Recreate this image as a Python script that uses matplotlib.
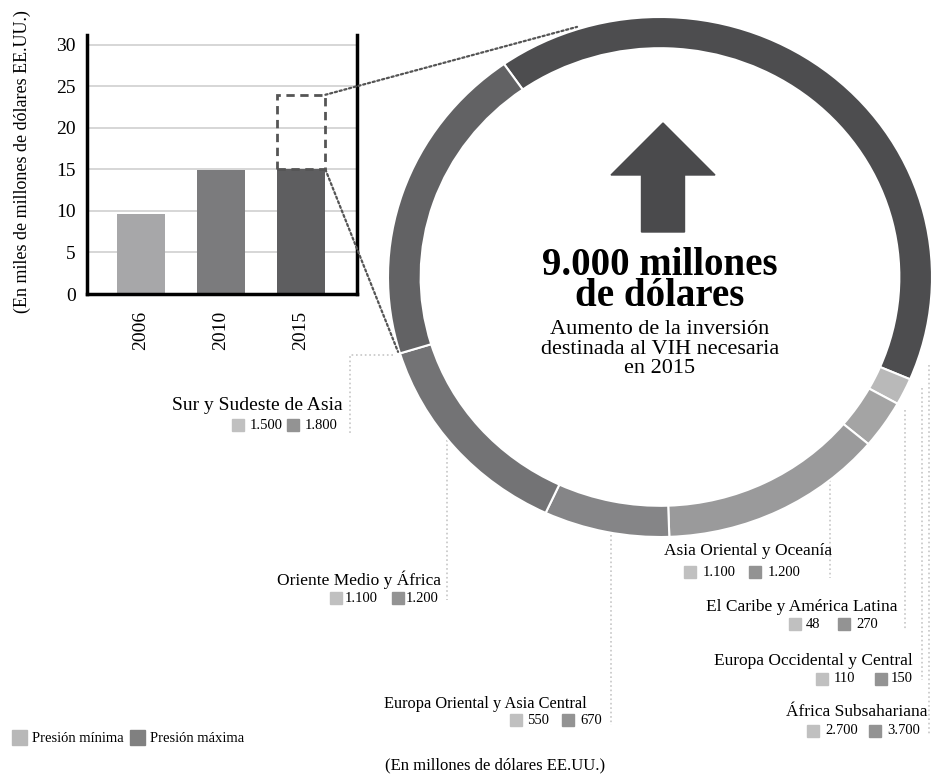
import matplotlib.pyplot as plt
from matplotlib.patches import Rectangle, ConnectionPatch

plt.rcParams['font.family'] = ['Liberation Serif', 'DejaVu Serif']

# datos: gasto en VIH (miles de millones de USD)
anios = ['2006', '2010', '2015']
gasto = [9.6, 14.9, 15.0]
necesidad_2015 = 24
colores_barras = ['#a7a7a9', '#7b7b7d', '#5e5e60']

# datos por región (millones de USD)
regiones = ['África Subsahariana', 'Europa Occidental y Central',
            'El Caribe y América Latina', 'Asia Oriental y Oceanía',
            'Europa Oriental y Asia Central', 'Oriente Medio y África',
            'Sur y Sudeste de Asia']
minimo = [2700, 110, 48, 1100, 550, 1100, 1500]
maximo = [3700, 150, 270, 1200, 670, 1200, 1800]
colores_anillo = ['#4d4d4f', '#b9b9b9', '#a4a4a4', '#9a9a9b',
                  '#858587', '#737375', '#626264']

def fmt(v):
    return f"{v:,}".replace(',', '.')

W, H = 931, 778
fig = plt.figure(figsize=(W / 100, H / 100), dpi=100)

# capa de fondo en píxeles para textos y líneas guía
ax_o = fig.add_axes([0, 0, 1, 1])
ax_o.set_xlim(0, W)
ax_o.set_ylim(H, 0)
ax_o.axis('off')

# --- gráfico de barras ---
ax_b = fig.add_axes([87 / W, 1 - 294 / H, 270 / W, 259 / H])
x = range(len(anios))
ax_b.bar(x, gasto, width=0.61, color=colores_barras, zorder=2)
ax_b.bar(2, necesidad_2015 - gasto[2], bottom=gasto[2], width=0.61, fill=False,
         edgecolor='#555555', linestyle=(0, (3, 2)), linewidth=2, zorder=3)
ax_b.set_xlim(-0.675, 2.7)
ax_b.set_ylim(0, 31.2)
ax_b.set_yticks(range(0, 31, 5))
ax_b.set_xticks(list(x))
ax_b.set_xticklabels(anios, rotation=90, fontsize=14)
ax_b.tick_params(axis='y', labelsize=14, length=0, pad=8)
ax_b.tick_params(axis='x', length=0, pad=12)
ax_b.yaxis.grid(True, color='#cfcfcf', linewidth=1.2, zorder=0)
ax_b.set_axisbelow(True)
ax_b.spines['top'].set_visible(False)
for s in ['left', 'right', 'bottom']:
    ax_b.spines[s].set_linewidth(2.5)
    ax_b.spines[s].set_color('black')

# --- anillo ---
rx, ry = 272, 260
cx, cy = 660, 277
ax_r = fig.add_axes([(cx - 1.2 * rx) / W, 1 - (cy + 1.2 * ry) / H,
                     2.4 * rx / W, 2.4 * ry / H])
ax_r.pie(maximo, colors=colores_anillo, startangle=125, counterclock=False,
         wedgeprops=dict(width=0.12, edgecolor='white', linewidth=1.5))
ax_r.set_aspect('auto')
ax_r.set_xlim(-1.2, 1.2)
ax_r.set_ylim(-1.2, 1.2)
ax_r.axis('off')

# líneas punteadas de zoom
for yb, pr in [(necesidad_2015, (-0.305, 0.962)), (gasto[2], (-0.963, -0.288))]:
    con = ConnectionPatch(xyA=(2.305, yb), coordsA=ax_b.transData,
                          xyB=pr, coordsB=ax_r.transData,
                          linestyle=(0, (1, 1.2)), color='#555555', linewidth=1.6)
    fig.add_artist(con)

# flecha y texto central
ax_o.arrow(663, 232, 0, -109, width=43, head_width=104, head_length=52,
           length_includes_head=True, color='#4a4a4c', zorder=3)
ax_o.text(660, 247, '9.000 millones\nde dólares', fontsize=28, fontweight='bold',
          ha='center', va='top', linespacing=0.8)
ax_o.text(660, 320, 'Aumento de la inversión\ndestinada al VIH necesaria\nen 2015',
          fontsize=16, ha='center', va='top', linespacing=1.05)

# líneas guía
guia = dict(color='#c6c6c6', linestyle=':', linewidth=1.2, zorder=0)
ax_o.plot([393, 350, 350], [355, 355, 433], **guia)
ax_o.plot([447, 447], [440, 600], **guia)
ax_o.plot([611, 611], [535, 725], **guia)
ax_o.plot([830, 830], [480, 578], **guia)
ax_o.plot([905, 905], [410, 630], **guia)
ax_o.plot([922, 922], [388, 680], **guia)
ax_o.plot([929, 929], [365, 736], **guia)

# etiquetas de región: (x derecha título, y título, y fila, sq1, v1, sq2, v2, tamaño)
pos = [
    (928, 712, 731, 807, 825, 869, 887, 12.5),
    (913, 661, 679, 816, 834, 875, 891, 12.5),
    (898, 607, 624, 789, 806, 838, 856, 12.5),
    (832, 551, 572, 684, 703, 749, 768, 12.5),
    (587, 704, 720, 510, 527, 562, 580, 11.8),
    (441, 580, 598, 330, 345, 392, 406, 12.5),
    (343, 405, 425, 232, 250, 287, 305, 14),
]
c_min, c_max = '#c0c0c0', '#939393'
for reg, vmin, vmax, p in zip(regiones, minimo, maximo, pos):
    xr, yt, yf, s1, v1, s2, v2, fs = p
    ax_o.text(xr, yt, reg, fontsize=fs, ha='right', va='center')
    ax_o.add_patch(Rectangle((s1, yf - 6), 12, 12, color=c_min))
    ax_o.add_patch(Rectangle((s2, yf - 6), 12, 12, color=c_max))
    ax_o.text(v1, yf, fmt(vmin), fontsize=10.5, ha='left', va='center')
    ax_o.text(v2, yf, fmt(vmax), fontsize=10.5, ha='left', va='center')

# leyenda
ax_o.add_patch(Rectangle((12, 730), 15, 15, color='#b8b8b8'))
ax_o.text(32, 738, 'Presión mínima', fontsize=10.5, ha='left', va='center')
ax_o.add_patch(Rectangle((130, 730), 15, 15, color='#808080'))
ax_o.text(150, 738, 'Presión máxima', fontsize=10.5, ha='left', va='center')

# títulos de ejes
ax_o.text(22, 162, '(En miles de millones de dólares EE.UU.)', fontsize=13,
          rotation=90, ha='center', va='center')
ax_o.text(495, 765, '(En millones de dólares EE.UU.)', fontsize=12,
          ha='center', va='center')

fig.savefig('out.png', dpi=100)
